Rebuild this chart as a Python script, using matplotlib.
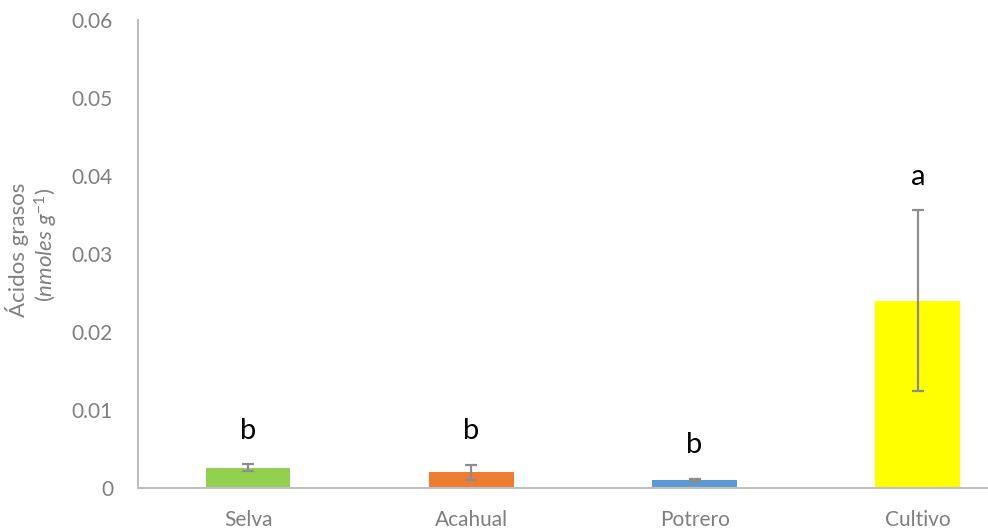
import matplotlib
matplotlib.use('Agg')
import matplotlib.pyplot as plt
import numpy as np

# fatty acid content by land use
sites = ['Selva', 'Acahual', 'Potrero', 'Cultivo']
means = [0.0026, 0.0020, 0.0010, 0.0240]
errors = [0.00045, 0.0010, 0.0002, 0.0116]
groups = ['b', 'b', 'b', 'a']
colors = ['#92D050', '#ED7D31', '#5B9BD5', '#FFFF00']
yticks = [0, 0.01, 0.02, 0.03, 0.04, 0.05, 0.06]

plt.rcParams['font.family'] = ['Lato', 'DejaVu Sans']
plt.rcParams['mathtext.fontset'] = 'custom'
plt.rcParams['mathtext.rm'] = 'Lato'
plt.rcParams['mathtext.it'] = 'Lato:italic'

fig = plt.figure(figsize=(9.88, 5.31), dpi=100)
ax = fig.add_axes([138 / 988, 1 - 488 / 531, 850 / 988, 468 / 531])

x = np.arange(len(sites))
ax.bar(x, means, width=0.38, color=colors, zorder=2)
ax.errorbar(x, means, yerr=errors, fmt='none', ecolor='#8c8c8c',
            elinewidth=1.6, capsize=4.5, capthick=1.6, zorder=3)

for xi, m, e, g in zip(x, means, errors, groups):
    ax.text(xi, m + e + 0.0043, g, ha='center', va='center',
            fontsize=21, color='black')

ax.set_ylim(0, 0.06)
ax.set_xlim(-0.493, 3.314)
ax.set_yticks(yticks)
ax.set_yticklabels([f'{t:g}' for t in yticks])
ax.set_xticks(x)
ax.set_xticklabels(sites)
ax.tick_params(axis='both', length=0, labelsize=15, colors='#7f7f7f')
ax.tick_params(axis='y', pad=18)
ax.tick_params(axis='x', pad=16)

for side in ['top', 'right']:
    ax.spines[side].set_visible(False)
for side in ['left', 'bottom']:
    ax.spines[side].set_color('#bfbfbf')
    ax.spines[side].set_linewidth(1.5)

fig.text(17 / 988, 1 - 250 / 531, 'Ácidos grasos', rotation=90,
         ha='center', va='center', fontsize=16, color='#7f7f7f')
fig.text(46 / 988, 1 - 245 / 531, r'$\mathit{(nmoles\ g^{-1})}$', rotation=90,
         ha='center', va='center', fontsize=16, color='#7f7f7f')

fig.savefig('out.png', dpi=100)
